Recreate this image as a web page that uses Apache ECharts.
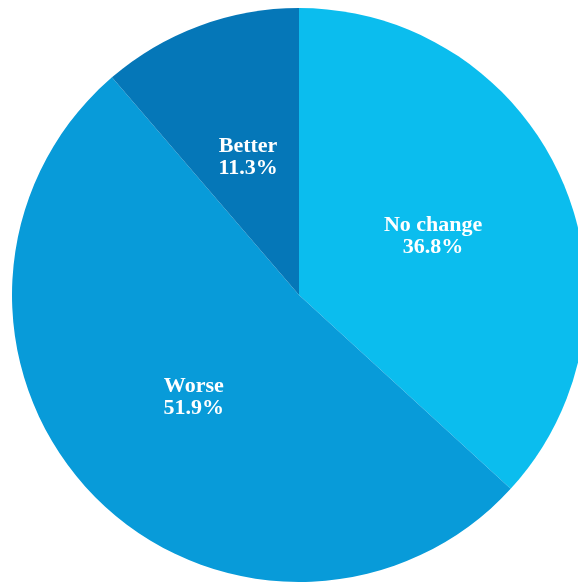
<!DOCTYPE html>
<html>
<head>
<meta charset="utf-8">
<script src="https://cdn.jsdelivr.net/npm/echarts@6/dist/echarts.min.js"></script>
<style>html,body{margin:0;padding:0;background:#fff}#c{width:578px;height:582px}</style>
</head>
<body>
<div id="c"></div>
<script>
const categories = ["No change", "Worse", "Better"];
const values = [36.8, 51.9, 11.3];
const colors = ["#0BBDEE", "#089BD9", "#0577B8"];

const chart = echarts.init(document.getElementById('c'), null, {renderer: 'canvas'});
chart.setOption({
  animation: false,
  series: [{
    type: 'pie',
    center: [299, 295],
    radius: [0, 287],
    startAngle: 90,
    clockwise: true,
    avoidLabelOverlap: false,
    data: categories.map((c, i) => ({name: c, value: values[i], itemStyle: {color: colors[i]}})),
    itemStyle: {borderWidth: 0},
    label: {
      show: true,
      position: 'inside',
      formatter: p => p.name + '\n' + p.value.toFixed(1) + '%',
      color: '#fff',
      fontFamily: '"Liberation Serif", "Times New Roman", serif',
      fontWeight: 'bold',
      fontSize: 22,
      lineHeight: 22,
      padding: [6, 0, 0, 0],
      align: 'center'
    },
    labelLine: {show: false},
    emphasis: {disabled: true}
  }]
});
</script>
</body>
</html>
